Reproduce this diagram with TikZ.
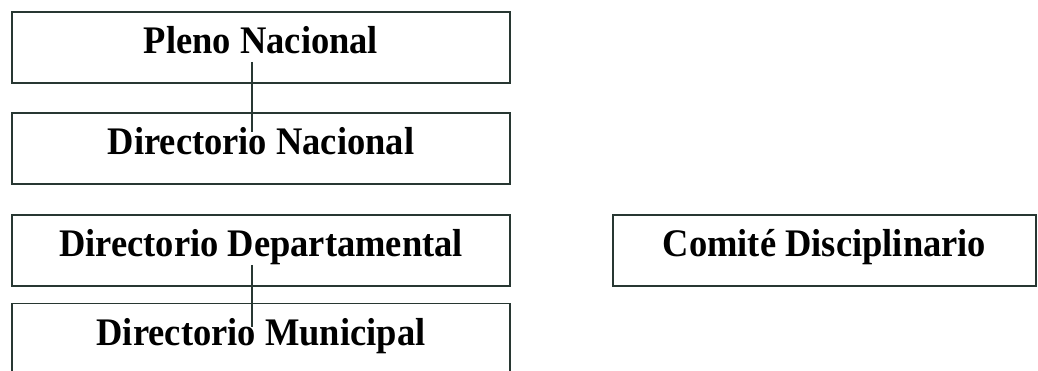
\documentclass[tikz,border=0pt]{standalone}
\usepackage{graphicx}
\usepackage{fontspec}
\setmainfont{Liberation Serif}
\usetikzlibrary{shapes.geometric, arrows}
\definecolor{boxline}{RGB}{40,55,50}
\newcommand{\lbl}[1]{\scalebox{1}[1.07]{#1}}
\tikzstyle{unit} = [rectangle, minimum width=498pt, minimum height=71pt, inner sep=0pt, text height=24pt, text depth=11pt, text centered, draw=boxline, line width=1.5pt, font=\bfseries\fontsize{36.5}{40}\selectfont]
\tikzstyle{link} = [line width=1.2pt, draw=boxline]

\begin{document}
\begin{tikzpicture}[x=1pt, y=-1pt, node distance=101pt]
\useasboundingbox (0,0) rectangle (1038,371);
\node (pleno) [unit] at (261,47.5) {\lbl{Pleno Nacional}};
\node (dirnacional) [unit, below of=pleno] {\lbl{Directorio Nacional}};
\node (dirdepto) [unit, below of=dirnacional, yshift=-1pt] {\lbl{Directorio Departamental}};
\node (dirmunicipal) [unit, below of=dirdepto, node distance=88.5pt] {\lbl{Directorio Municipal}};
\node (comite) [unit, right of=dirdepto, node distance=563.5pt, minimum width=423pt] {\lbl{Comité Disciplinario}};
\draw [link] ([xshift=-9pt, yshift=-14.5pt]pleno.center) -- ([xshift=-9pt, yshift=16.5pt]dirnacional.center);
\draw [link] ([xshift=-9pt, yshift=-14.5pt]dirdepto.center) -- ([xshift=-9pt, yshift=12pt]dirmunicipal.center);
\end{tikzpicture}
\end{document}
